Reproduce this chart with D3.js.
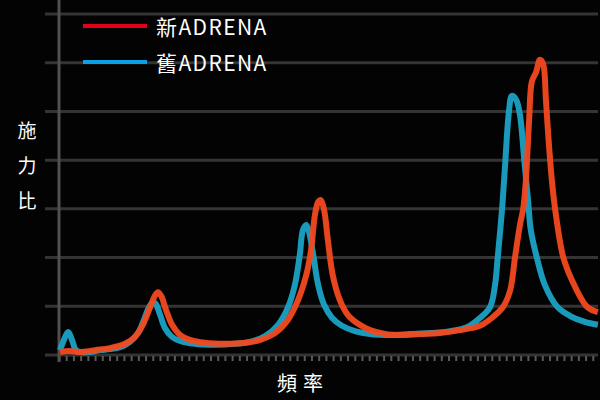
<!DOCTYPE html>
<html>
<head>
<meta charset="utf-8">
<script src="https://cdn.jsdelivr.net/npm/d3@7"></script>
<style>
html,body{margin:0;padding:0;background:#000;}
svg{display:block;}
</style>
</head>
<body>
<svg id="chart" width="600" height="400"></svg>
<script>
// ---- data ----
const seriesNames = ["新ADRENA", "舊ADRENA"];
const yTicks = [0, 1, 2, 3, 4, 5, 6, 7];
const axisTitleY = "施力比";
const axisTitleX = "頻率";

// 舊ADRENA (old, blue)
const oldFreq = [0.2,0.9,1.7,2.4,3.1,3.9,5.7,7.6,9.4,11.3,13.1,14.6,15.7,16.6,17.4,17.9,18.7,19.6,20.9,22.4,25.1,28.8,32.5,35.3,38.1,40.5,42.3,43.6,44.5,45.1,45.7,46.2,47.0,47.9,49.0,50.5,52.3,54.7,57.5,61.2,64.9,68.6,72.3,75.4,77.8,79.7,80.6,81.1,81.9,82.4,83.2,83.7,84.5,85.2,86.0,86.7,87.2,88.3,89.8,92.1,94.5,97.2,99.6];
const oldForce = [0.10,0.31,0.47,0.31,0.10,0.06,0.06,0.10,0.12,0.16,0.27,0.45,0.72,0.97,1.09,1.05,0.82,0.55,0.37,0.29,0.23,0.21,0.23,0.27,0.39,0.62,0.97,1.44,2.05,2.57,2.67,2.53,2.05,1.44,1.03,0.76,0.60,0.49,0.43,0.41,0.43,0.45,0.49,0.57,0.76,0.99,1.44,2.01,3.00,3.80,5.03,5.32,5.24,4.93,4.00,3.18,2.57,2.01,1.44,0.99,0.80,0.68,0.62];

// 新ADRENA (new, red)
const newFreq = [0.2,2.0,3.9,6.7,9.4,12.2,14.0,15.5,16.8,17.7,18.3,18.9,19.8,20.9,22.4,24.2,27.0,30.7,34.4,37.2,39.9,42.3,44.2,45.7,46.6,47.3,47.9,48.4,49.0,49.7,50.6,51.9,53.4,55.3,57.5,60.3,63.0,66.7,70.4,74.1,77.8,80.0,82.1,83.4,84.3,85.2,85.8,86.3,86.9,87.4,88.2,88.9,89.5,90.0,90.5,91.1,91.7,93.2,94.8,97.6,99.6];
const newForce = [0.06,0.08,0.06,0.10,0.14,0.23,0.37,0.62,0.97,1.21,1.29,1.21,0.92,0.62,0.41,0.31,0.25,0.23,0.25,0.31,0.45,0.72,1.13,1.64,2.16,2.87,3.14,3.18,2.98,2.36,1.64,1.13,0.82,0.64,0.51,0.43,0.41,0.43,0.45,0.51,0.60,0.76,0.99,1.33,2.01,2.67,3.00,3.59,4.83,5.61,5.81,6.06,5.97,5.24,4.41,3.59,3.00,2.01,1.54,0.99,0.88];

// ---- drawing ----
const svg = d3.select("#chart");
svg.append("rect").attr("width", 600).attr("height", 400).attr("fill", "#030303");

const x = d3.scaleLinear().domain([0, 100]).range([59, 600]);
const y = d3.scaleLinear().domain([0, 7]).range([355, 14]);

// gridlines
svg.append("g").selectAll("line").data(yTicks).join("line")
  .attr("x1", 45).attr("x2", 598)
  .attr("y1", d => y(d)).attr("y2", d => y(d))
  .attr("stroke", "#343434").attr("stroke-width", 3);

// bottom tick row
const xAxis = d3.axisBottom(x).tickValues(d3.range(0, 100, 4/3)).tickSize(5).tickFormat("");
const gx = svg.append("g").attr("transform", "translate(0,356)").call(xAxis);
gx.select(".domain").remove();
gx.selectAll(".tick line").attr("stroke", "#5a5a5a").attr("stroke-width", 2);

// vertical axis line
svg.append("line").attr("x1", 59).attr("x2", 59).attr("y1", 0).attr("y2", 362)
  .attr("stroke", "#505050").attr("stroke-width", 3);

const line = d3.line().x(d => x(d[0])).y(d => y(d[1])).curve(d3.curveCatmullRom.alpha(0.5));
const oldData = oldFreq.map((f, i) => [f, oldForce[i]]);
const newData = newFreq.map((f, i) => [f, newForce[i]]);

svg.append("path").datum(oldData).attr("d", line)
  .attr("fill", "none").attr("stroke", "#1aa2c4").attr("stroke-width", 6)
  .attr("stroke-linejoin", "round").attr("opacity", 0.95);
svg.append("path").datum(newData).attr("d", line)
  .attr("fill", "none").attr("stroke", "#f2491f").attr("stroke-width", 6)
  .attr("stroke-linejoin", "round").attr("opacity", 0.95);

// legend
const legendColors = ["#e3001b", "#0aa0e2"];
const lg = svg.append("g");
seriesNames.forEach((name, i) => {
  const yy = 26 + i * 36;
  lg.append("line").attr("x1", 83).attr("x2", 147).attr("y1", yy).attr("y2", yy)
    .attr("stroke", legendColors[i]).attr("stroke-width", 4);
  lg.append("text").attr("x", 156).attr("y", yy + 9)
    .attr("fill", "#fff").attr("font-family", "'Noto Sans CJK TC', 'Noto Sans', sans-serif")
    .attr("font-size", 21).attr("letter-spacing", 1.4).text(name);
});

// axis titles
const ty = svg.append("g");
Array.from(axisTitleY).forEach((ch, i) => {
  ty.append("text").attr("x", 27).attr("y", 138 + i * 35).attr("text-anchor", "middle")
    .attr("fill", "#fff").attr("font-family", "'Noto Sans CJK TC', sans-serif")
    .attr("font-size", 19).text(ch);
});
svg.append("text").attr("x", 303).attr("y", 391).attr("text-anchor", "middle")
  .attr("fill", "#fff").attr("font-family", "'Noto Sans CJK TC', sans-serif")
  .attr("font-size", 20).attr("letter-spacing", 6).text(axisTitleX);
</script>
</body>
</html>
